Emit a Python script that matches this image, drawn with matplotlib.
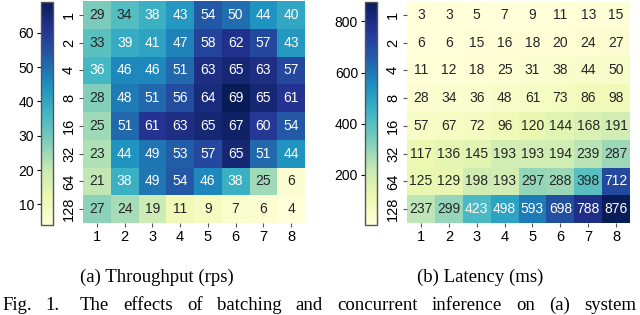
import matplotlib
matplotlib.use("Agg")
import matplotlib.pyplot as plt
import numpy as np
import seaborn as sns

# batch sizes (rows) and concurrency levels (columns)
batch_sizes = ["1", "2", "4", "8", "16", "32", "64", "128"]
concurrency = ["1", "2", "3", "4", "5", "6", "7", "8"]

throughput = [
    [29, 34, 38, 43, 54, 50, 44, 40],
    [33, 39, 41, 47, 58, 62, 57, 43],
    [36, 46, 46, 51, 63, 65, 63, 57],
    [28, 48, 51, 56, 64, 69, 65, 61],
    [25, 51, 61, 63, 65, 67, 60, 54],
    [23, 44, 49, 53, 57, 65, 51, 44],
    [21, 38, 49, 54, 46, 38, 25, 6],
    [27, 24, 19, 11, 9, 7, 6, 4],
]

latency = [
    [3, 3, 5, 7, 9, 11, 13, 15],
    [6, 6, 15, 16, 18, 20, 24, 27],
    [11, 12, 18, 25, 31, 38, 44, 50],
    [28, 34, 36, 48, 61, 73, 86, 98],
    [57, 67, 72, 96, 120, 144, 168, 191],
    [117, 136, 145, 193, 193, 194, 239, 287],
    [125, 129, 198, 193, 297, 288, 398, 712],
    [237, 299, 423, 498, 593, 698, 788, 876],
]

subcaptions = ["(a) Throughput (rps)", "(b) Latency (ms)"]
caption = "Fig. 1.  The effects of batching and concurrent inference on (a) system"

W, H = 640, 315
fig = plt.figure(figsize=(W / 100, H / 100), dpi=100)
plt.rcParams["font.family"] = ["Liberation Sans", "DejaVu Sans"]


def px(x0, y0, x1, y1):
    return [x0 / W, 1 - y1 / H, (x1 - x0) / W, (y1 - y0) / H]


panels = [
    (throughput, px(83, 1, 305, 223), px(41, 2, 53, 225), 157),
    (latency, px(407, 1, 630, 223), px(365, 2, 377, 225), 480),
]

for (data, hm_box, cb_box, cx), sub in zip(panels, subcaptions):
    ax = fig.add_axes(hm_box)
    cax = fig.add_axes(cb_box)
    sns.heatmap(np.array(data), ax=ax, cbar_ax=cax, cmap="YlGnBu",
                annot=True, fmt="d", annot_kws={"fontsize": 10},
                xticklabels=concurrency, yticklabels=batch_sizes)
    ax.tick_params(axis="both", length=3, width=0.8, color="#555555",
                   labelsize=10.5, pad=2)
    ax.tick_params(axis="y", labelrotation=90)
    for lab in ax.get_yticklabels():
        lab.set_va("center")
    cax.yaxis.set_ticks_position("left")
    cax.tick_params(length=3, width=0.8, labelsize=10, pad=2)
    cb = ax.collections[0].colorbar
    cb.outline.set_visible(True)
    cb.outline.set_edgecolor("#555555")
    cb.outline.set_linewidth(1.0)
    fig.text(cx / W, 1 - 282 / H, sub, ha="center", va="baseline",
             fontsize=13.5, family="Liberation Serif")

# justified caption line
words = caption.split()
renderer = fig.canvas.get_renderer()
texts = [fig.text(0, 1 - 310 / H, w, fontsize=13.5, family="Liberation Serif",
                  va="baseline") for w in words]
widths = [t.get_window_extent(renderer).width for t in texts]
x0, x1, extra = 2, 636, 6  # extra space after the figure number
gap = (x1 - x0 - extra - sum(widths)) / (len(words) - 1)
x = x0
for i, (t, w) in enumerate(zip(texts, widths)):
    t.set_x(x / W)
    x += w + gap
    if i == 1:
        x += extra

fig.savefig("out.png", dpi=100)
